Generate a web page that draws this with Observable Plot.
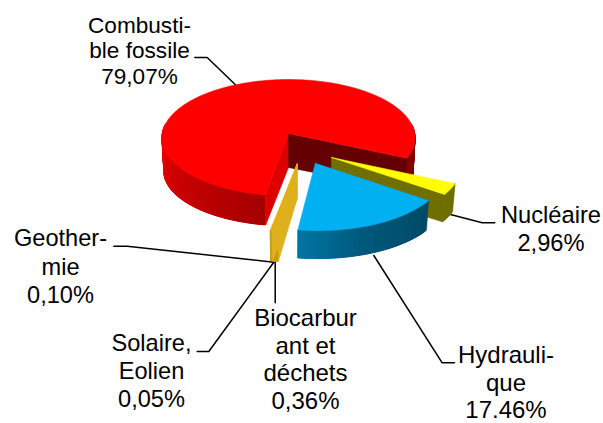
<!DOCTYPE html>
<html>
<head>
<meta charset="utf-8">
<script src="https://cdn.jsdelivr.net/npm/d3@7"></script>
<script src="https://cdn.jsdelivr.net/npm/@observablehq/plot@0.6"></script>
<style>html,body{margin:0;padding:0;background:#fff;overflow:hidden}svg{display:block}</style>
</head>
<body>
<div id="chart"></div>
<script>
// --- data ---
const categories = ["Combusti-\nble fossile", "Nucléaire", "Hydrauli-\nque", "Biocarbur\nant et\ndéchets", "Solaire,\nEolien", "Geother-\nmie"];
const values = [79.07, 2.96, 17.46, 0.36, 0.05, 0.10];
const percentLabels = ["79,07%", "2,96%", "17.46%", "0,36%", "0,05%", "0,10%"];

// --- layout / style ---
const labelX = [139, 550.5, 505.5, 305, 151, 60];
const labelY = [83, 250, 417.5, 408, 406.5, 302.5];
const labelLineHeight = [25.5, 27.7, 27.5, 27.4, 27.8, 28.3];
const labelFontPx = [22.6, 23.7, 24, 24, 23.6, 23.6];
const leaders = [
  [[194.3, 57], [206.7, 57], [235.7, 85]],
  [[450, 214], [481.7, 222.3], [494.3, 222.3]],
  [[373.3, 255], [441.7, 362.3], [454, 362.3]],
  [[274.7, 261.7], [274.7, 302.3]],
  [[273.3, 261.7], [208.3, 351], [196.7, 351]],
  [[273.3, 261.7], [126.7, 245.7], [113.3, 245.7]]
];
const explodeU = [0, 0.331, 0.205, 0.0665, 0.0665, 0.0665];
const explodeV = [0, 0.402, 0.495, 0.51, 0.51, 0.51];
const depthScale = [34, 31, 34, 37, 37, 37];
const topColors = ["#ff0000", "#ffff00", "#00b0f0", "#e6ae00", "#e6ae00", "#e6ae00"];
const wallColors = {0: ["#dc0000", "#640000"], 1: [null, "#6f6f00"], 3: ["#dfb01e", null], 4: ["#dfb01e", null], 5: ["#dfb01e", null]};
const sideColor = [
  d3.scaleLinear().domain([100, 180, 360, 385]).range(["#a40000", "#e60000", "#7c0000", "#860000"]),
  () => "#6f6f00",
  d3.scaleLinear().domain([35, 70, 98]).range(["#004a66", "#00587a", "#0076a3"]),
  () => "#c49a12", () => "#c49a12", () => "#c49a12"
];
const firstAngle = 99.8, sliverGain = 1.8;
const cx = 288, cy = 133, A = 126.2, B = 57.9, k = 0.0729;

const deg = Math.PI / 180;
const arcs = d3.pie().sort(null).value(d => d)
  .startAngle((firstAngle + 90) * deg).endAngle((firstAngle + 450) * deg)(values);
const hydroEnd = arcs[2].endAngle / deg - 90;
const angles = arcs.map((a, i) => {
  let t0 = a.startAngle / deg - 90, t1 = a.endAngle / deg - 90;
  if (i >= 3) { t0 = hydroEnd + (t0 - hydroEnd) * sliverGain; t1 = hydroEnd + (t1 - hydroEnd) * sliverGain; }
  if (i >= 1) { t0 -= 360; t1 -= 360; }
  return [t0, t1];
});
angles.forEach((a, i) => { if (i >= 1 && a[0] < 0) { a[0] += 360; a[1] += 360; } });

function project(i, u, v, drop) {
  const U = u + explodeU[i], V = v + explodeV[i], den = 1 - k * V;
  let x = A * U / den, y = B * V / den;
  if (drop) { x *= 0.985; y += depthScale[i] * (1 - 0.12 * V); }
  return [cx + x, cy + y];
}
const at = (i, t, drop) => project(i, Math.cos(t * deg), Math.sin(t * deg), drop);

const polygons = [];
function pushFace(id, color, pts) { [...pts, pts[0]].forEach(p => polygons.push({id, color, x: p[0], y: p[1]})); }

// painter's order: red, nuclear, slivers, hydro
[0, 1, 3, 4, 5, 2].forEach(i => {
  const [t0, t1] = angles[i];
  const n = Math.max(2, Math.ceil(t1 - t0));
  const ts = d3.range(n + 1).map(j => t0 + (t1 - t0) * j / n);
  // outer side, strips overlap so no seams show; the shade follows the angle
  for (let j = 0; j < n; j++) {
    const a = ts[j], b = Math.min(t1, ts[j + 1] + 1.5), mid = (ts[j] + ts[j + 1]) / 2;
    if (Math.sin(mid * deg) < -0.15) continue;
    pushFace(`s${i}-${j}`, sideColor[i](mid), [at(i, a), at(i, b), at(i, b, true), at(i, a, true)]);
  }
  // the two cut walls
  const walls = wallColors[i];
  if (walls) {
    const apex = project(i, 0, 0), apexLow = project(i, 0, 0, true);
    if (walls[0]) pushFace(`w0-${i}`, walls[0], [apex, at(i, t0), at(i, t0, true), apexLow]);
    if (walls[1]) pushFace(`w1-${i}`, walls[1], [apex, at(i, t1), at(i, t1, true), apexLow]);
  }
  // top
  pushFace(`t${i}`, topColors[i], [project(i, 0, 0), ...ts.map(t => at(i, t))]);
});

const leaderRows = leaders.flatMap((pts, i) => pts.map(p => ({id: categories[i], x: p[0], y: p[1]})));
const labelMarks = categories.map((c, i) => Plot.text(
  [{text: c + "\n" + percentLabels[i], x: labelX[i], y: labelY[i]}],
  {x: "x", y: "y", text: "text", fontSize: labelFontPx[i], lineHeight: labelLineHeight[i] / labelFontPx[i], lineAnchor: "bottom", textAnchor: "middle", fontFamily: "Liberation Sans, Arial, sans-serif", fill: "#000"}
));

const chart = Plot.plot({
  width: 603, height: 423,
  margin: 0,
  x: {domain: [0, 603], range: [0, 603], axis: null},
  y: {domain: [0, 423], range: [0, 423], axis: null},
  color: {type: "identity"},
  style: {background: "#fff"},
  marks: [
    Plot.line(leaderRows, {x: "x", y: "y", z: "id", stroke: "#000", strokeWidth: 1.5, strokeLinejoin: "round"}),
    Plot.line(polygons, {x: "x", y: "y", z: "id", fill: "color", stroke: "color", strokeWidth: 0.6, curve: "linear"}),
    ...labelMarks
  ]
});
document.getElementById("chart").append(chart);
</script>
</body>
</html>
